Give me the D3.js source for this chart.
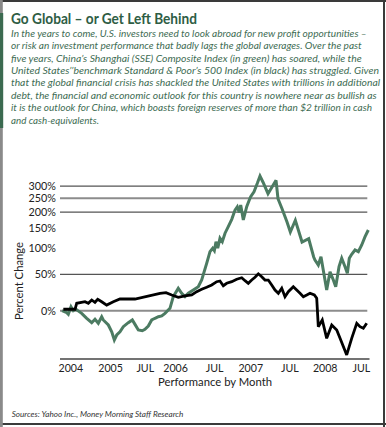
<!DOCTYPE html>
<html><head><meta charset="utf-8">
<script src="https://cdn.jsdelivr.net/npm/d3@7/dist/d3.min.js"></script>
<style>body{margin:0;background:#fff}svg{display:block}</style>
</head><body>
<svg id="c" width="386" height="427"></svg>
<script>
const title = "Go Global \u2013 or Get Left Behind";
const bodyLines = [
  "In the years to come, U.S. investors need to look abroad for new profit opportunities \u2013",
  "or risk an investment performance that badly lags the global averages. Over the past",
  "five years, China\u2019s Shanghai (SSE) Composite Index (in green) has soared, while the",
  "United States\u2019\u2019benchmark Standard & Poor\u2019s 500 Index (in black) has struggled. Given",
  "that the global financial crisis has shackled the United States with trillions in additional",
  "debt, the financial and economic outlook for this country is nowhere near as bullish as",
  "it is the outlook for China, which boasts foreign reserves of more than $2 trillion in cash",
  "and cash-equivalents."
];
const bodyWidths = [355.7, 350.7, 350.7, 368, 369, 365.7, 361, 88];
const yAxisTitle = "Percent Change";
const xAxisTitle = "Performance by Month";
const sourceText = "Sources: Yahoo Inc., Money Morning Staff Research";

const xTickYears = [2004.49, 2005.04, 2005.52, 2005.94, 2006.48, 2006.98, 2007.52, 2008.01, 2008.51];
const xTickLabels = ["2004", "2005", "JUL", "2006", "JUL", "2007", "JUL", "2008", "JUL"];
const yTickValues = [300, 250, 200, 150, 100, 50, 0];
const gridValues = [300, 250, 200, 50, 0];

// Shanghai (SSE) Composite, % change
const sseYears = [2004.368,2004.433,2004.455,2004.492,2004.524,2004.557,2004.640,2004.710,2004.779,2004.824,2004.870,2004.917,2004.939,2005.009,2005.056,2005.092,2005.125,2005.170,2005.216,2005.285,2005.341,2005.378,2005.424,2005.479,2005.516,2005.562,2005.609,2005.655,2005.701,2005.748,2005.793,2005.862,2005.908,2005.977,2006.024,2006.070,2006.116,2006.185,2006.254,2006.301,2006.370,2006.416,2006.453,2006.476,2006.499,2006.523,2006.554,2006.586,2006.624,2006.669,2006.717,2006.762,2006.794,2006.822,2006.841,2006.877,2006.924,2006.960,2006.979,2007.025,2007.071,2007.108,2007.150,2007.219,2007.330,2007.357,2007.413,2007.482,2007.528,2007.597,2007.690,2007.782,2007.851,2007.869,2007.915,2007.952,2008.031,2008.077,2008.123,2008.156,2008.202,2008.239,2008.285,2008.317,2008.344,2008.377,2008.423,2008.469,2008.516,2008.562,2008.607];
const sseValues = [0,-2.2,-3.9,4.5,0,1.9,-2.9,-8.1,-12.5,-9.1,-13.1,-6.5,-9.8,-14.7,-20.9,-27.8,-23.7,-20.9,-16.3,-12.5,-9.8,-14.1,-19.3,-20,-18.7,-15.7,-9.8,-8.1,-6.5,-5.7,-2.9,2.7,16.9,28.3,21.4,16.9,21.4,25.9,30.6,40.7,69.5,92.9,100.5,95.1,115.6,100.5,123.9,115.6,137,155,176.6,206.6,218.3,198,224.6,174.6,218.3,243,256.1,276,313,348,318,268,327,248,211,168.6,140,173.7,114.8,122.8,81.8,75.9,66.3,82.5,25.9,54.4,40.7,30.6,63.3,79.2,63.3,51.7,79.2,87.5,96.6,92.9,107.9,128,145.6];

// S&P 500, % change
const spxYears = [2004.386,2004.548,2004.571,2004.686,2004.732,2004.779,2004.824,2004.862,2004.917,2004.986,2005.078,2005.170,2005.378,2005.724,2005.807,2005.886,2005.977,2006.070,2006.163,2006.232,2006.301,2006.370,2006.440,2006.509,2006.554,2006.600,2006.647,2006.717,2006.786,2006.855,2006.901,2006.946,2006.993,2007.039,2007.085,2007.132,2007.177,2007.223,2007.270,2007.316,2007.362,2007.409,2007.454,2007.500,2007.569,2007.616,2007.662,2007.708,2007.755,2007.800,2007.860,2007.893,2007.915,2007.970,2008.031,2008.101,2008.170,2008.216,2008.308,2008.377,2008.447,2008.492,2008.538,2008.585];
const spxValues = [1.6,1.6,8.6,10.5,8.6,12.7,9.8,13.5,10.5,6.5,10.5,13.9,13.9,21.4,22.2,19.1,16.1,17.8,19.1,23.6,26.9,29.8,33.1,38.1,39.2,32.1,35.7,38.1,41.9,44.4,39.7,35.7,40.7,45.1,50.8,46,40.7,40.7,33.1,25.9,21.4,28.3,16.9,23.6,30.6,25.9,21.4,16.9,19.1,21.4,19.1,14.8,-16.3,-9.8,-26.5,-14.7,-19.3,-26.5,-38.9,-26.5,-13.1,-16.3,-17.8,-13.1];

const yMin = -41.6, yMax = 300;
const xStart = 2004.34, xEnd = 2008.6;

const FONT = "Lato, 'Open Sans', sans-serif";
const GREEN = "#4c7b62";
const TEXTGREEN = "#3e6c53";

const svg = d3.select("#c");

// frame
svg.append("rect").attr("x",0).attr("y",0).attr("width",386).attr("height",427).attr("fill","#fff");
svg.append("line").attr("x1",0).attr("x2",386).attr("y1",1).attr("y2",1).attr("stroke","#3a3a3a").attr("stroke-width",2);
svg.append("line").attr("x1",384).attr("x2",384).attr("y1",0).attr("y2",427).attr("stroke","#3a3a3a").attr("stroke-width",2);
svg.append("line").attr("x1",0).attr("x2",386).attr("y1",424).attr("y2",424).attr("stroke","#3a3a3a").attr("stroke-width",2);
svg.append("line").attr("x1",1.4).attr("x2",1.4).attr("y1",0).attr("y2",427).attr("stroke","#8a8a8a").attr("stroke-width",2.8);
svg.append("line").attr("x1",1.6).attr("x2",1.6).attr("y1",13).attr("y2",128).attr("stroke","#3b6a50").attr("stroke-width",3.2);

// header
svg.append("text").attr("x",11).attr("y",23.6)
  .attr("font-family",FONT).attr("font-weight","bold").attr("font-size",14.5)
  .attr("fill","#2e5d44").attr("textLength",186).attr("lengthAdjust","spacingAndGlyphs")
  .text(title);

svg.selectAll("text.body").data(bodyLines).join("text").attr("class","body")
  .attr("x",11).attr("y",(d,i)=>36.8+12.4*i)
  .attr("font-family",FONT).attr("font-style","italic").attr("font-size",10)
  .attr("fill",TEXTGREEN)
  .attr("textLength",(d,i)=>bodyWidths[i]).attr("lengthAdjust","spacingAndGlyphs")
  .text(d=>d);

// scales
const x = d3.scaleLinear().domain([xStart, xEnd]).range([60, 367.8]);
const y = d3.scaleLog().domain([1 + yMin/100, 1 + yMax/100]).range([359, 186.2]);
const yv = v => y(1 + v/100);

// gridlines
svg.selectAll("line.grid").data(gridValues).join("line").attr("class","grid")
  .attr("x1",x(xStart)).attr("x2",367.3)
  .attr("y1",d=>yv(d)).attr("y2",d=>yv(d))
  .attr("stroke",d=> (d===250||d===0) ? "#8c8c8c" : "#555")
  .attr("stroke-width",d=> (d===250||d===0) ? 2 : 1.3);

// x axis line
svg.append("line").attr("x1",x(xStart)).attr("x2",369.5).attr("y1",y.range()[0]).attr("y2",y.range()[0])
  .attr("stroke","#444").attr("stroke-width",1.4);

// y tick labels
svg.selectAll("text.ytick").data(yTickValues).join("text").attr("class","ytick")
  .attr("x",56).attr("y",d=>yv(d)).attr("dy","0.36em").attr("text-anchor","end")
  .attr("font-family",FONT).attr("font-size",10.8).attr("fill","#222")
  .text(d=>d3.format("d")(d)+"%");

// x tick labels
svg.selectAll("text.xtick").data(xTickYears).join("text").attr("class","xtick")
  .attr("x",d=>x(d)).attr("y",371.7).attr("text-anchor","middle")
  .attr("font-family",FONT).attr("font-size",10.6).attr("fill","#222")
  .text((d,i)=>xTickLabels[i]);

// axis titles
svg.append("text").attr("transform","translate(22.5,281) rotate(-90)").attr("text-anchor","middle")
  .attr("font-family",FONT).attr("font-size",11.2).attr("fill","#222")
  .attr("textLength",78).attr("lengthAdjust","spacingAndGlyphs").text(yAxisTitle);
svg.append("text").attr("x",215).attr("y",385.8).attr("text-anchor","middle")
  .attr("font-family",FONT).attr("font-size",11.4).attr("fill","#222")
  .attr("textLength",114).attr("lengthAdjust","spacingAndGlyphs").text(xAxisTitle);

// lines
const line = d3.line().x(d=>x(d[0])).y(d=>yv(d[1]));
svg.append("path").datum(d3.zip(sseYears, sseValues))
  .attr("d",line).attr("fill","none").attr("stroke",GREEN).attr("stroke-width",3)
  .attr("stroke-linejoin","miter").attr("stroke-miterlimit",3);
svg.append("path").datum(d3.zip(spxYears, spxValues))
  .attr("d",line).attr("fill","none").attr("stroke","#000").attr("stroke-width",2.8)
  .attr("stroke-linejoin","miter").attr("stroke-miterlimit",3);

// source
svg.append("text").attr("x",11.7).attr("y",416.7)
  .attr("font-family",FONT).attr("font-style","italic").attr("font-size",8.2).attr("fill","#333")
  .attr("textLength",171.6).attr("lengthAdjust","spacingAndGlyphs").text(sourceText);
</script>
</body></html>
